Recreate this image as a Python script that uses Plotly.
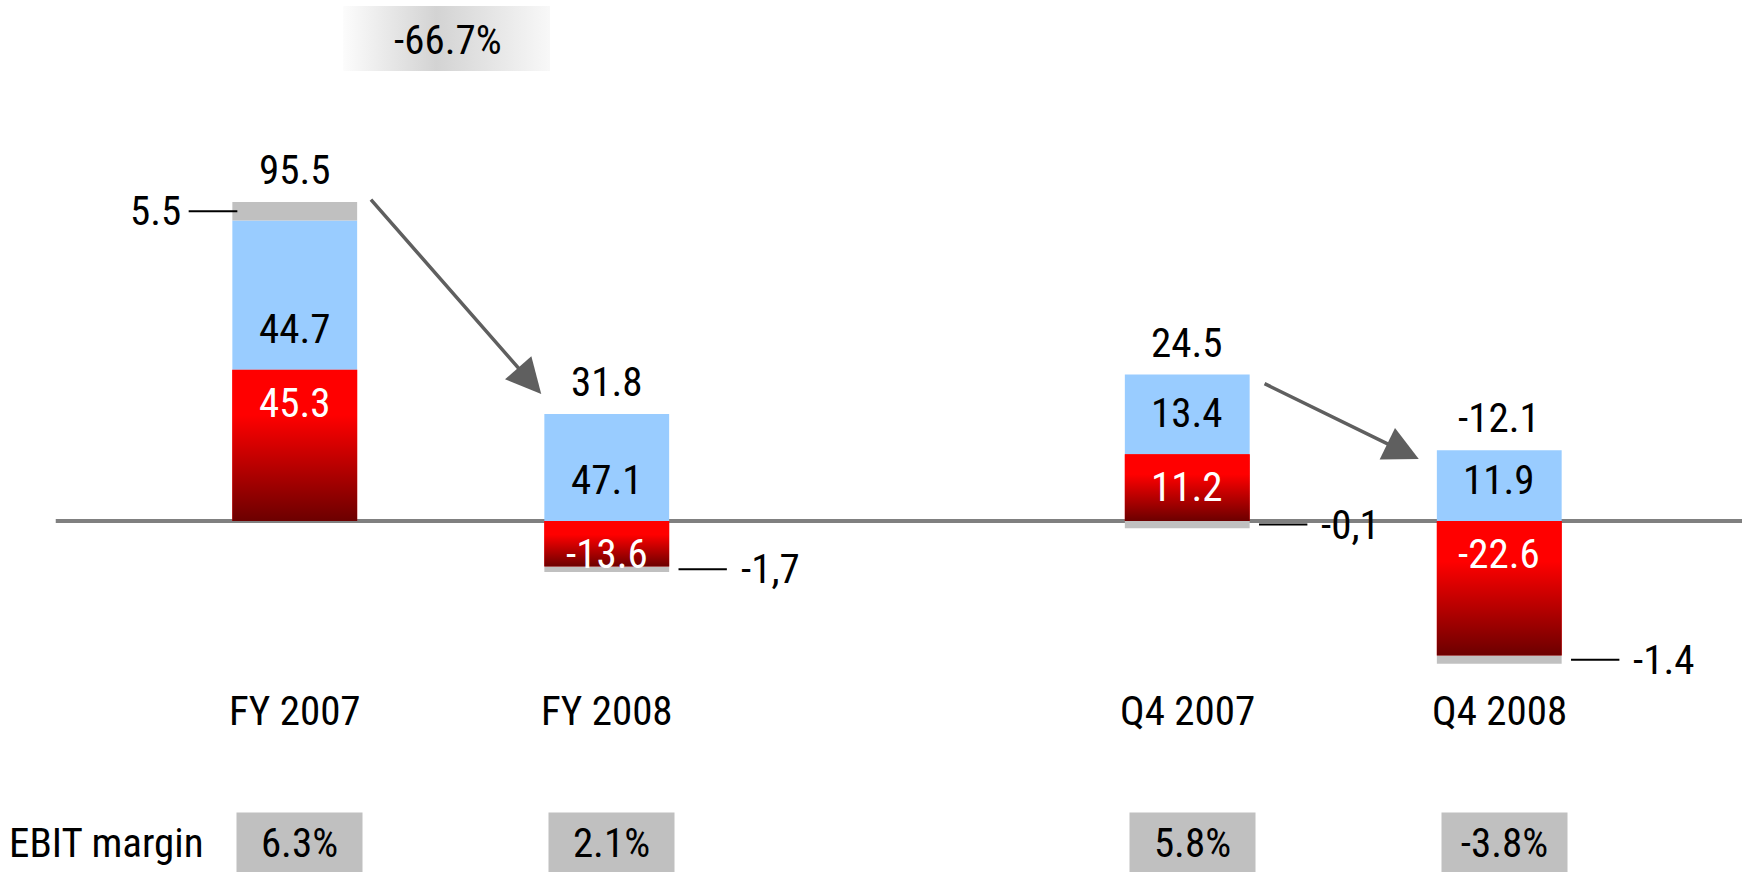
import plotly.graph_objects as go

# values
periods = ["FY 2007", "FY 2008", "Q4 2007", "Q4 2008"]
groups = [0, 0, 1, 1]          # 0 = full year panel, 1 = quarter panel
total_labels = ["95.5", "31.8", "24.5", "-12.1"]
blue_labels = ["44.7", "47.1", "13.4", "11.9"]
blue_vals = [44.7, 32.0, 13.4, 11.9]      # heights as drawn in the picture
red_vals = [45.3, -13.6, 11.2, -22.6]
grey_labels = ["5.5", "-1,7", "-0,1", "-1.4"]
grey_vals = [5.5, -1.7, -1.2, -1.4]       # heights as drawn
ebit_margin = ["6.3%", "2.1%", "5.8%", "-3.8%"]
fy_change = "-66.7%"

FONT = "Roboto Condensed, Liberation Sans Narrow, sans-serif"
FS = 41
W = 0.4
BLUE = "#99ccff"
GREY = "#c0c0c0"
RED_CS = [[0, "#6c0000"], [0.7, "#ff0000"], [1, "#ff0000"]]
AX = [("x", "y"), ("x2", "y2")]
pos = [0, 1, 0, 1]

fig = go.Figure()

for g, (xa, ya) in enumerate(AX):
    idx = [i for i in range(len(periods)) if groups[i] == g]
    xs = [pos[i] for i in idx]
    for vals, col in [(red_vals, "#ff0000"), (blue_vals, BLUE), (grey_vals, GREY)]:
        fig.add_trace(go.Bar(x=xs, y=[vals[i] for i in idx], width=W,
                             marker=dict(color=col, line=dict(width=0)),
                             xaxis=xa, yaxis=ya, hoverinfo="skip", showlegend=False))

# gradient overlay on the red segments
for i, r in enumerate(red_vals):
    xa, ya = AX[groups[i]]
    lo, hi = min(0, r), max(0, r)
    x0, x1 = pos[i] - W / 2, pos[i] + W / 2
    fig.add_trace(go.Scatter(x=[x0, x1, x1, x0, x0], y=[lo, lo, hi, hi, lo],
                             fill="toself", mode="none",
                             fillgradient=dict(type="vertical", colorscale=RED_CS, start=lo, stop=hi),
                             xaxis=xa, yaxis=ya, hoverinfo="skip", showlegend=False))

# badge behind the growth figure
fig.add_trace(go.Scatter(x=[0.155, 0.818, 0.818, 0.155, 0.155], y=[134.7, 134.7, 154.2, 154.2, 134.7],
                         fill="toself", mode="none",
                         fillgradient=dict(type="horizontal", start=0.155, stop=0.818,
                                           colorscale=[[0, "#fcfcfc"], [0.45, "#d3d3d3"], [1, "#f8f8f8"]]),
                         xaxis="x", yaxis="y", hoverinfo="skip", showlegend=False))

ann = []
shapes = []
tops = []
for i in range(len(periods)):
    xa, ya = AX[groups[i]]
    r, b, gr = red_vals[i], blue_vals[i], grey_vals[i]
    top = max(r, 0) + max(b, 0) + max(gr, 0)
    tops.append(top)
    txt = dict(xref=xa, yref=ya, showarrow=False, font=dict(family=FONT, size=FS, color="black"))
    # total above the bar
    ann.append(dict(txt, x=pos[i], y=top, yanchor="bottom", yshift=6, text=total_labels[i]))
    # blue segment label
    ann.append(dict(txt, x=pos[i], y=max(r, 0), yanchor="bottom", yshift=15, text=blue_labels[i]))
    # red segment label
    ann.append(dict(txt, x=pos[i], y=max(r, 0), yanchor="top", yshift=-7, text=f"{r:.1f}",
                    font=dict(family=FONT, size=FS, color="white")))
    # grey segment with leader line
    gbase = max(r, 0) + max(b, 0) if gr > 0 else min(r, 0) + min(b, 0)
    gy = gbase + gr / 2
    if gr > 0:
        lx0, lx1 = pos[i] - W / 2 + 0.016, pos[i] - W / 2 - 0.14
        ann.append(dict(txt, x=lx1, y=gy, xanchor="right", yanchor="middle", xshift=-6, text=grey_labels[i]))
    else:
        lx0, lx1 = pos[i] + W / 2 + 0.03, pos[i] + W / 2 + 0.185
        ann.append(dict(txt, x=lx1, y=gy, xanchor="left", yanchor="middle", xshift=12, text=grey_labels[i]))
    shapes.append(dict(type="line", xref=xa, yref=ya, x0=lx0, x1=lx1, y0=gy, y1=gy,
                       line=dict(color="black", width=2)))
    # category label
    ann.append(dict(xref=xa, yref="paper", x=pos[i], y=0.1846, yanchor="middle", showarrow=False,
                    text=periods[i], font=dict(family=FONT, size=FS, color="black")))
    # EBIT margin box
    ann.append(dict(xref=xa, yref="paper", x=pos[i], xshift=5, y=0.0338, yanchor="middle",
                    showarrow=False, text=ebit_margin[i], bgcolor=GREY, width=125, height=59,
                    borderpad=0, font=dict(family=FONT, size=FS, color="black")))

ann.append(dict(xref="paper", yref="paper", x=0.004, y=0.0338, xanchor="left", yanchor="middle",
                showarrow=False, text="EBIT margin", font=dict(family=FONT, size=FS, color="black")))
ann.append(dict(xref="x", yref="y", x=0.49, y=144.0, yanchor="middle", showarrow=False,
                text=fy_change, font=dict(family=FONT, size=FS, color="black")))

# trend arrows between the pairs
arrows = [("x", "y", (W / 2 + 0.04, tops[0] + 1.2), (1 - W / 2 - 0.01, tops[1] + 6)),
          ("x2", "y2", (W / 2 + 0.043, tops[2] - 1.4), (1 - W / 2 - 0.058, tops[3] - 1.5))]
for xa, ya, tail, head in arrows:
    ann.append(dict(xref=xa, yref=ya, axref=xa, ayref=ya, x=head[0], y=head[1], ax=tail[0], ay=tail[1],
                    text="", showarrow=True, arrowhead=2, arrowsize=2.0, arrowwidth=3.5,
                    arrowcolor="#5f5f5f"))

# zero line
shapes.append(dict(type="line", xref="paper", yref="y", x0=0.032, x1=1, y0=0, y1=0,
                   line=dict(color="#808080", width=4), layer="below"))

fig.update_layout(
    width=1742, height=872,
    margin=dict(l=0, r=0, t=0, b=0),
    paper_bgcolor="white", plot_bgcolor="white",
    barmode="relative", showlegend=False,
    font=dict(family=FONT, size=FS),
    xaxis=dict(domain=[0.07965, 0.43786], range=[-0.5, 1.5], visible=False, anchor="y"),
    xaxis2=dict(domain=[0.59199, 0.95021], range=[-0.5, 1.5], visible=False, anchor="y2"),
    yaxis=dict(range=[-105.09, 155.99], visible=False, anchor="x"),
    yaxis2=dict(range=[-58.99, 87.56], visible=False, anchor="x2"),
    annotations=ann,
    shapes=shapes,
)

fig.write_html("out.html", config={"displayModeBar": False},
               post_script="document.body.style.margin='0';")
